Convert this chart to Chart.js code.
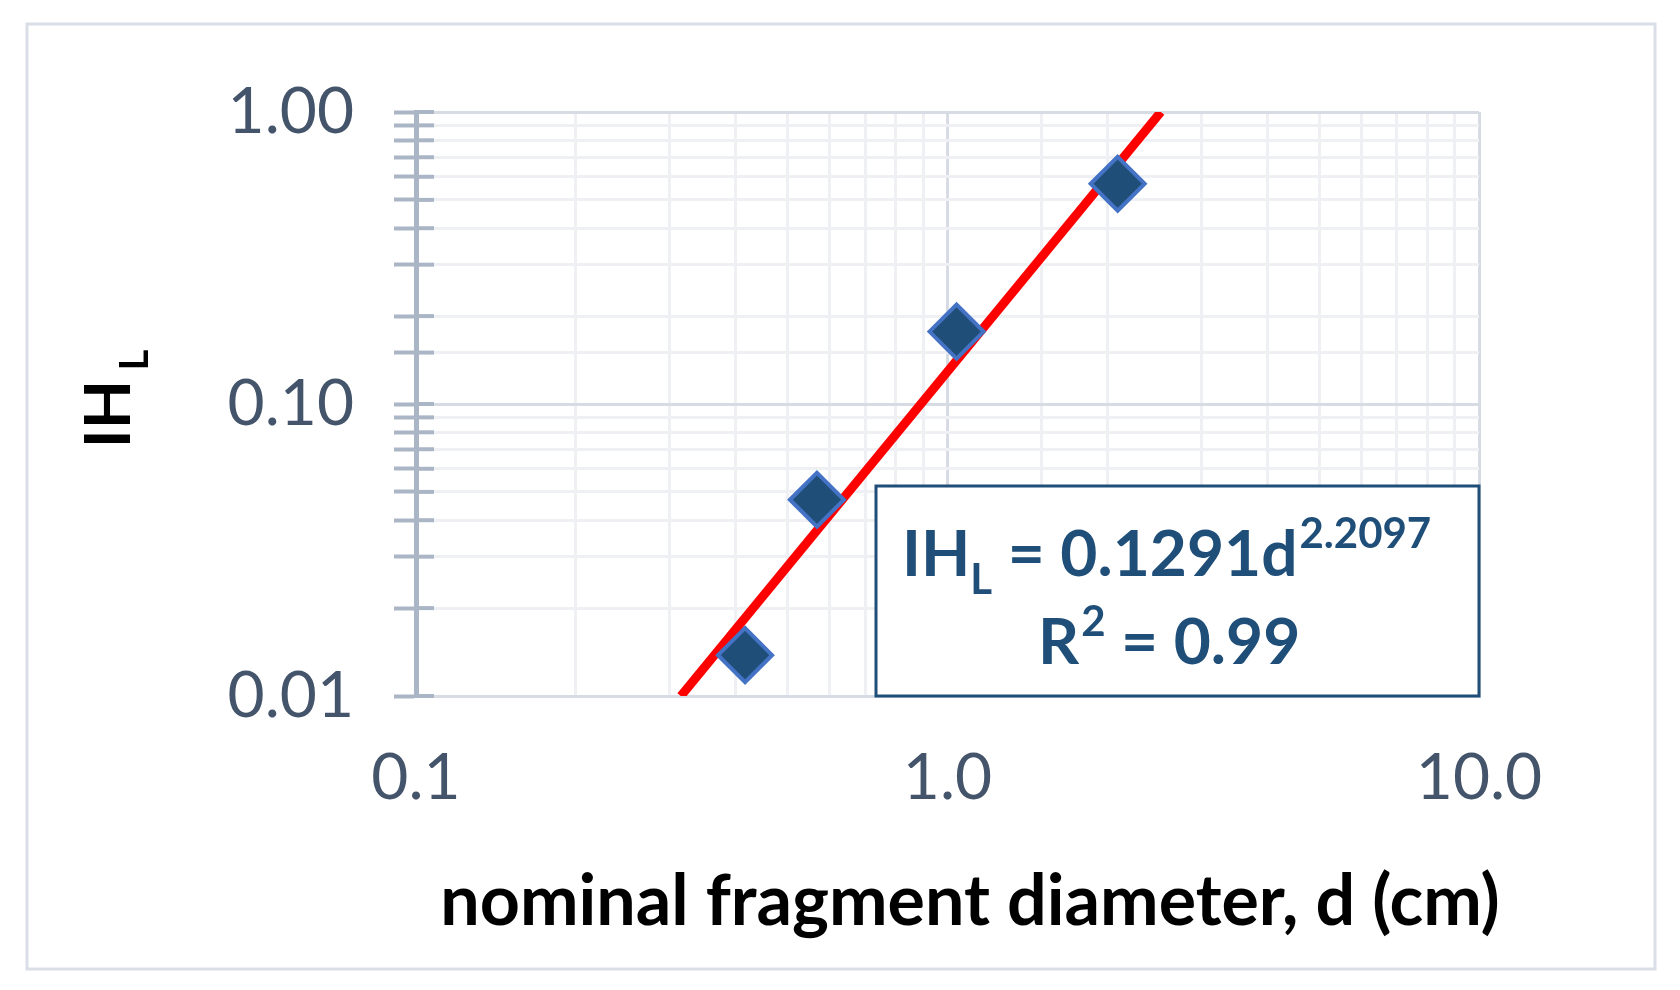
<!DOCTYPE html>
<html><head><meta charset="utf-8">
<script src="https://cdn.jsdelivr.net/npm/chart.js@4"></script>
<style>html,body{margin:0;background:#fff}#wrap{width:1680px;height:990px;position:relative}</style>
</head><body><div id="wrap"><canvas id="c"></canvas></div>
<script>
/* measured data (cm, IH_L) */
const diameters = [0.416, 0.568, 1.04, 2.09];
const ihl = [0.0138, 0.047, 0.177, 0.568];
/* power-law trend line endpoints */
const trendX = [0.315, 2.52];
const trendY = [0.01, 1.0];
const xTickLabels = {0.1: '0.1', 1: '1.0', 10: '10.0'};
const yTickLabels = {0.01: '0.01', 0.1: '0.10', 1: '1.00'};

const FONT = 'Lato, "Open Sans", sans-serif';
const isMajor = v => Math.abs(Math.log10(v) - Math.round(Math.log10(v))) < 1e-6;

/* frame, titles, equation box */
const extras = {
  id: 'extras',
  afterDraw(chart) {
    const c = chart.ctx, a = chart.chartArea;
    c.save();
    c.strokeStyle = '#d9dee7'; c.lineWidth = 3;
    c.strokeRect(27, 24, 1628, 945);
    // y tick marks crossing into the axis
    c.strokeStyle = '#aab5c6'; c.lineWidth = 4;
    chart.scales.y.ticks.forEach(t => {
      const py = chart.scales.y.getPixelForValue(t.value);
      c.beginPath(); c.moveTo(a.left, py); c.lineTo(a.left + 18, py); c.stroke();
    });
    // y title
    c.translate(130, 404); c.rotate(-Math.PI / 2);
    c.fillStyle = '#000'; c.textBaseline = 'alphabetic'; c.textAlign = 'center';
    c.font = 'bold 64px ' + FONT;
    c.fillText('IH', -10, 0);
    c.font = 'bold 40px ' + FONT;
    c.fillText('L', 44, 18);
    c.restore();
    // equation box
    c.save();
    const bx = a.left + 460, by = a.top + 374, bw = a.right - bx, bh = a.bottom - by;
    c.fillStyle = '#fff'; c.fillRect(bx, by, bw, bh);
    c.strokeStyle = '#1f4e79'; c.lineWidth = 3; c.strokeRect(bx, by, bw, bh);
    c.fillStyle = '#1f4e79'; c.textBaseline = 'alphabetic';
    const big = 'bold 64px ' + FONT, small = 'bold 42px ' + FONT;
    c.font = big;
    let x = bx + 26, y = by + 90;
    c.fillText('IH', x, y); x += c.measureText('IH').width;
    c.font = small; c.fillText('L', x, y + 18); x += c.measureText('L').width;
    c.font = big; c.fillText(' = 0.1291d', x, y); x += c.measureText(' = 0.1291d').width;
    c.font = small; c.fillText('2.2097', x + 2, y - 28);
    c.font = big;
    x = bx + 162; y = by + 178;
    c.fillText('R', x, y); x += c.measureText('R').width;
    c.font = small; c.fillText('2', x + 2, y - 28); x += c.measureText('2').width + 2;
    c.font = big; c.fillText(' = 0.99', x, y);
    // x title
    c.fillStyle = '#000'; c.textAlign = 'center';
    c.font = 'bold 70px ' + FONT;
    c.fillText('nominal fragment diameter, d (cm)', 970, 925);
    c.restore();
  }
};

new Chart(document.getElementById('c'), {
  type: 'scatter',
  data: {
    datasets: [
      { data: trendX.map((v, i) => ({x: v, y: trendY[i]})), showLine: true, borderColor: '#ff0000',
        borderWidth: 9, pointRadius: 0, order: 2 },
      { data: diameters.map((v, i) => ({x: v, y: ihl[i]})), pointStyle: 'rectRot', pointRadius: 27,
        pointHoverRadius: 27, backgroundColor: '#1f4e79', borderColor: '#4472c4', borderWidth: 4, order: 1 }
    ]
  },
  options: {
    responsive: true, maintainAspectRatio: false, animation: false,
    layout: { padding: { top: 112, right: 201, left: 0, bottom: 0 } },
    plugins: { legend: { display: false }, tooltip: { enabled: false } },
    scales: {
      x: {
        type: 'logarithmic', min: 0.1, max: 10,
        afterFit: s => { s.height = 294; },
        border: { color: '#d6dbe4', width: 3 },
        grid: { drawTicks: false, color: ctx => isMajor(ctx.tick.value) ? '#d6dbe4' : '#eef0f4', lineWidth: 3 },
        ticks: { padding: 44, color: '#44546a', font: { family: FONT, size: 64 }, autoSkip: false, maxRotation: 0,
          callback: v => xTickLabels[Number(v.toPrecision(3))] || '' }
      },
      y: {
        type: 'logarithmic', min: 0.01, max: 1,
        afterFit: s => { s.width = 416; },
        border: { color: '#aab5c6', width: 5 },
        grid: { tickLength: 22, tickColor: '#aab5c6', tickWidth: 4,
          color: ctx => isMajor(ctx.tick.value) ? '#d6dbe4' : '#eef0f4', lineWidth: 3 },
        ticks: { padding: 40, color: '#44546a', font: { family: FONT, size: 64 }, autoSkip: false,
          callback: v => yTickLabels[Number(v.toPrecision(3))] || '' }
      }
    }
  },
  plugins: [extras]
});
</script></body></html>
